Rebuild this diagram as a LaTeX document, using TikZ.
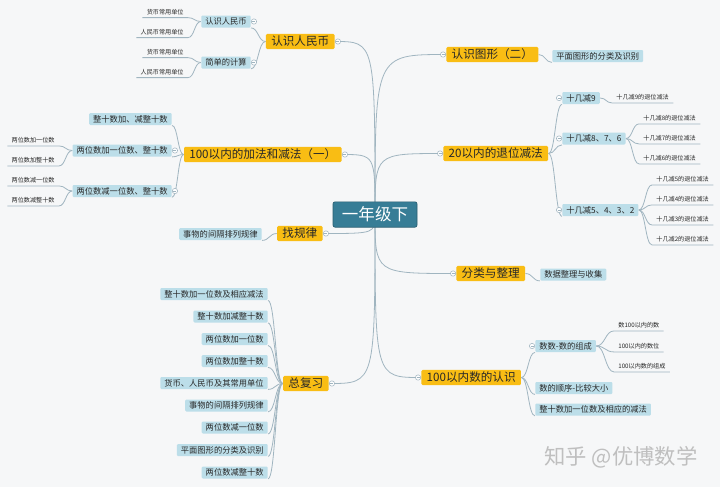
\documentclass[tikz,border=0pt]{standalone}
\usepackage{fontspec}
\newfontfamily\cjkfont{Noto Sans CJK SC}
\usetikzlibrary{calc}

\definecolor{bgcolor}{RGB}{246,247,248}
\definecolor{rootcolor}{RGB}{55,125,150}
\definecolor{topiccolor}{RGB}{249,189,20}
\definecolor{subcolor}{RGB}{188,222,233}
\definecolor{linecolor}{RGB}{160,181,192}
\definecolor{textcolor}{RGB}{40,40,40}

\pgfdeclarelayer{bg}
\pgfsetlayers{bg,main}

\tikzset{every picture/.style={line width=0.6pt}}
\tikzset{
  rootnode/.style={fill=rootcolor, draw=rootcolor!75!black, line width=0.5pt, rounded corners=1.5pt, text=white,
    font=\cjkfont\fontsize{12.4}{14}\selectfont, minimum width=63pt, minimum height=19pt, inner sep=0pt},
  topic/.style={fill=topiccolor, rounded corners=1pt, text=textcolor,
    font=\cjkfont\fontsize{8.7}{10}\selectfont, minimum height=11.5pt, inner xsep=4pt, inner ysep=0pt},
  subtopic/.style={fill=subcolor, rounded corners=0.8pt, text=textcolor,
    font=\cjkfont\fontsize{6.2}{7.5}\selectfont, minimum height=9pt, inner xsep=3pt, inner ysep=0pt},
  leaf/.style={text=textcolor, font=\cjkfont\fontsize{4.6}{5.5}\selectfont, inner xsep=3pt, inner ysep=2pt},
  fold/.style={circle, draw=linecolor, fill=white, line width=0.4pt, minimum size=4pt, inner sep=0pt,
    path picture={\draw[linecolor, line width=0.4pt] ([xshift=0.9pt]path picture bounding box.west) -- ([xshift=-0.9pt]path picture bounding box.east);}},
  branch/.style={draw=linecolor, line width=0.6pt},
  mainlink/.style={to path={.. controls (\tikztostart |- \tikztotarget) .. (\tikztotarget)}},
  sublink/.style={to path={.. controls ($(\tikztostart)!0.5!(\tikztotarget |- \tikztostart)$) and ($(\tikztotarget)!0.5!(\tikztostart |- \tikztotarget)$) .. (\tikztotarget)}},
}

\begin{document}
\begin{tikzpicture}[x=0.75pt,y=0.75pt,yscale=-1,xscale=1]
\useasboundingbox (0,0) rectangle (720,487);

% Root
\node [rootnode] (root) at (375,214.5) {一年级下};

% Main topics, left
\node [topic, anchor=east] (t1) at (335,41.5) {认识人民币};
\node [topic, anchor=east] (t2) at (342,154.5) {100以内的加法和减法（一）};
\node [topic, anchor=east] (t3) at (323,233.5) {找规律};
\node [topic, anchor=east] (t4) at (329,383.5) {总复习};
% Main topics, right
\node [topic, anchor=west] (t5) at (446,54.5) {认识图形（二）};
\node [topic, anchor=west] (t6) at (443,153.5) {20以内的退位减法};
\node [topic, anchor=west] (t7) at (456,273.5) {分类与整理};
\node [topic, anchor=west] (t8) at (421,377.5) {100以内数的认识};

% Subtopics
\node [subtopic, anchor=east] (s11) at (251,21.5) {认识人民币};
\node [subtopic, anchor=east] (s12) at (251,62.5) {简单的计算};
\node [subtopic, anchor=east] (s21) at (172,119) {整十数加、减整十数};
\node [subtopic, anchor=east] (s22) at (172,150.5) {两位数加一位数、整十数};
\node [subtopic, anchor=east] (s23) at (172,191) {两位数减一位数、整十数};
\node [subtopic, anchor=east] (s31) at (262,234) {事物的间隔排列规律};
\node [subtopic, anchor=east] (z1) at (268,294) {整十数加一位数及相应减法};
\node [subtopic, anchor=east] (z2) at (268,316.5) {整十数加减整十数};
\node [subtopic, anchor=east] (z3) at (268,339) {两位数加一位数};
\node [subtopic, anchor=east] (z4) at (268,361) {两位数加整十数};
\node [subtopic, anchor=east] (z5) at (268,383) {货币、人民币及其常用单位};
\node [subtopic, anchor=east] (z6) at (268,405.5) {事物的间隔排列规律};
\node [subtopic, anchor=east] (z7) at (268,427.5) {两位数减一位数};
\node [subtopic, anchor=east] (z8) at (268,450) {平面图形的分类及识别};
\node [subtopic, anchor=east] (z9) at (268,472.5) {两位数减整十数};
\node [subtopic, anchor=west] (s51) at (552,56) {平面图形的分类及识别};
\node [subtopic, anchor=west] (s61) at (562,98) {十几减9};
\node [subtopic, anchor=west] (s62) at (562,138.5) {十几减8、7、6};
\node [subtopic, anchor=west] (s63) at (562,210) {十几减5、4、3、2};
\node [subtopic, anchor=west] (s71) at (540,274.5) {数据整理与收集};
\node [subtopic, anchor=west] (s81) at (535,346) {数数-数的组成};
\node [subtopic, anchor=west] (s82) at (535,388) {数的顺序-比较大小};
\node [subtopic, anchor=west] (s83) at (535,409.5) {整十数加一位数及相应的减法};

% Leaves
\node [leaf, anchor=east] (l111) at (188,11.7) {货币常用单位};
\node [leaf, anchor=east] (l112) at (188,31.7) {人民币常用单位};
\node [leaf, anchor=east] (l121) at (188,51.7) {货币常用单位};
\node [leaf, anchor=east] (l122) at (188,71.7) {人民币常用单位};
\node [leaf, anchor=east] (l221) at (59,140) {两位数加一位数};
\node [leaf, anchor=east] (l222) at (59,160) {两位数加整十数};
\node [leaf, anchor=east] (l231) at (59,180) {两位数减一位数};
\node [leaf, anchor=east] (l232) at (59,200) {两位数减整十数};
\node [leaf, anchor=west] (l611) at (612,97) {十几减9的退位减法};
\node [leaf, anchor=west] (l621) at (639,118) {十几减8的退位减法};
\node [leaf, anchor=west] (l622) at (639,138) {十几减7的退位减法};
\node [leaf, anchor=west] (l623) at (639,158) {十几减6的退位减法};
\node [leaf, anchor=west] (l631) at (652,179) {十几减5的退位减法};
\node [leaf, anchor=west] (l632) at (652,199) {十几减4的退位减法};
\node [leaf, anchor=west] (l633) at (652,219) {十几减3的退位减法};
\node [leaf, anchor=west] (l634) at (652,239) {十几减2的退位减法};
\node [leaf, anchor=west] (l811) at (614,325) {数100以内的数};
\node [leaf, anchor=west] (l812) at (614,346) {100以内的数位};
\node [leaf, anchor=west] (l813) at (614,366) {100以内数的组成};

% Fold markers
\foreach \n in {t1,t2,t3,t4,s11,s12,s22,s23}
  \node [fold, anchor=west] at (\n.east) {};
\foreach \n in {t5,t6,t7,t8,s61,s62,s63,s81}
  \node [fold, anchor=east] at (\n.west) {};

% Watermark
\node [font=\cjkfont\fontsize{16}{18}\selectfont, text=black!25] (mark) at (621,457) {知乎 @优博数学};

\begin{pgfonlayer}{bg}
\fill [bgcolor] (0,0) rectangle (720,487);
% root branches
\foreach \t in {t1,t2,t3,t4}
  \draw [branch] (root.center) to[mainlink] (\t.east);
\foreach \t in {t5,t6,t7,t8}
  \draw [branch] (root.center) to[mainlink] (\t.west);
% left subtopics
\draw [branch] (t1.west) to[sublink] (s11.south east);
\draw [branch] (t1.west) to[sublink] (s12.south east);
\draw [branch] (t2.west) to[sublink] (s21.south east);
\draw [branch] (t2.west) to[sublink] (s22.south east);
\draw [branch] (t2.west) to[sublink] (s23.south east);
\draw [branch] (t3.west) to[sublink] (s31.south east);
\foreach \i in {1,...,9}
  \draw [branch] (t4.west) to[sublink] (z\i.south east);
% right subtopics
\draw [branch] (t5.east) to[sublink] (s51.south west);
\draw [branch] (t6.east) to[sublink] (s61.south west);
\draw [branch] (t6.east) to[sublink] (s62.south west);
\draw [branch] (t6.east) to[sublink] (s63.south west);
\draw [branch] (t7.east) to[sublink] (s71.south west);
\draw [branch] (t8.east) to[sublink] (s81.south west);
\draw [branch] (t8.east) to[sublink] (s82.south west);
\draw [branch] (t8.east) to[sublink] (s83.south west);
% leaves, left
\draw [branch] (s11.west) to[sublink] (l111.south east) -- (l111.south west);
\draw [branch] (s11.west) to[sublink] (l112.south east) -- (l112.south west);
\draw [branch] (s12.west) to[sublink] (l121.south east) -- (l121.south west);
\draw [branch] (s12.west) to[sublink] (l122.south east) -- (l122.south west);
\draw [branch] (s22.west) to[sublink] (l221.south east) -- (l221.south west);
\draw [branch] (s22.west) to[sublink] (l222.south east) -- (l222.south west);
\draw [branch] (s23.west) to[sublink] (l231.south east) -- (l231.south west);
\draw [branch] (s23.west) to[sublink] (l232.south east) -- (l232.south west);
% leaves, right
\draw [branch] (s61.east) to[sublink] (l611.south west) -- (l611.south east);
\foreach \i in {1,2,3}
  \draw [branch] (s62.east) to[sublink] (l62\i.south west) -- (l62\i.south east);
\foreach \i in {1,2,3,4}
  \draw [branch] (s63.east) to[sublink] (l63\i.south west) -- (l63\i.south east);
\foreach \i in {1,2,3}
  \draw [branch] (s81.east) to[sublink] (l81\i.south west) -- (l81\i.south east);
\end{pgfonlayer}

\end{tikzpicture}
\end{document}
